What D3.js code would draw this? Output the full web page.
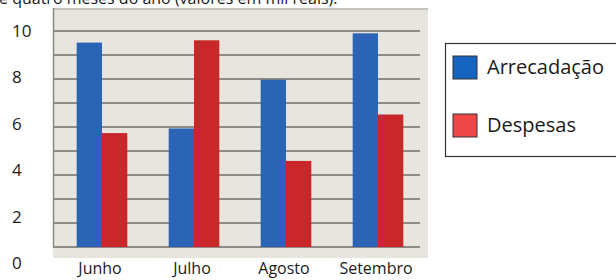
<!DOCTYPE html>
<html lang="pt-br">
  <head>
    <meta charset="utf-8">
    <title>Arrecadação e despesas</title>
    <script src="https://d3js.org/d3.v7.min.js"></script>
    <style>
      body { margin: 0; background: #fff; }
      text { font-family: 'Open Sans', sans-serif; fill: #1a1a1a; }
    </style>
  </head>
  <body>
    <svg></svg>
    <script>
    // dados (valores em mil reais)
    const meses = ['Junho', 'Julho', 'Agosto', 'Setembro']
    const arrecadacao = [9.5, 5.8, 7.9, 9.9]
    const despesas = [5.6, 9.6, 4.4, 6.4]
    const series = ['Arrecadação', 'Despesas']
    const yTicks = [0, 2, 4, 6, 8, 10]

    const svg = d3.select('svg')
      .attr('width', 616)
      .attr('height', 280)

    // titulo (cortado no topo da imagem)
    svg.append('text')
      .attr('x', -1)
      .attr('y', 4)
      .style('font-size', '16px')
      .text('e quatro meses do ano (valores em mil reais).')

    const plot = { left: 53, right: 428, top: 8, bottom: 258, axis: 247 }

    // fundo da area do grafico
    svg.append('rect')
      .attr('x', plot.left)
      .attr('y', plot.top)
      .attr('width', plot.right - plot.left)
      .attr('height', plot.bottom - plot.top)
      .attr('fill', '#e7e5de')
    svg.append('line')
      .attr('x1', plot.left).attr('x2', plot.right)
      .attr('y1', plot.top + 1).attr('y2', plot.top + 1)
      .attr('stroke', '#b9b7ae').attr('stroke-width', 1.5)

    const x = d3.scaleBand()
      .domain(meses)
      .range([56, 424])
      .paddingInner(0.45)
      .paddingOuter(0.225)

    const xSub = d3.scaleBand()
      .domain(series)
      .range([0, x.bandwidth()])

    // escala dos rotulos do eixo
    const y = d3.scaleLinear()
      .domain([0, 10])
      .range([263, 31])

    // linhas de grade (10 linhas, da linha do 10 ate a base)
    const grid = d3.scaleLinear()
      .domain([0, 9])
      .range([plot.axis, y(10)])
    svg.append('g')
      .selectAll('line')
      .data(d3.range(10))
      .join('line')
        .attr('x1', plot.left)
        .attr('x2', 420)
        .attr('y1', d => grid(d))
        .attr('y2', d => grid(d))
        .attr('stroke', '#6f6d66')
        .attr('stroke-width', 1.6)

    svg.append('line')
      .attr('x1', plot.left + 0.5).attr('x2', plot.left + 0.5)
      .attr('y1', plot.top).attr('y2', plot.axis)
      .attr('stroke', '#8a8880').attr('stroke-width', 1.5)

    // barras
    const cores = { 'Arrecadação': '#2b63b5', 'Despesas': '#c9272a' }
    const linhas = meses.map((m, i) => ({ mes: m, valores: [arrecadacao[i], despesas[i]] }))

    svg.append('g')
      .selectAll('g')
      .data(linhas)
      .join('g')
        .attr('transform', d => `translate(${x(d.mes)},0)`)
      .selectAll('rect')
      .data(d => d.valores.map((v, j) => ({ serie: series[j], v })))
      .join('rect')
        .attr('x', d => xSub(d.serie))
        .attr('width', xSub.bandwidth())
        .attr('y', d => y(d.v))
        .attr('height', d => plot.axis - y(d.v))
        .attr('fill', d => cores[d.serie])

    // eixo y (apenas rotulos)
    const yAxis = svg.append('g')
      .attr('transform', 'translate(12,0)')
      .call(d3.axisLeft(y).tickValues(yTicks).tickSize(0).tickPadding(0))
    yAxis.select('.domain').remove()
    yAxis.selectAll('text')
      .attr('text-anchor', 'start')
      .attr('fill', '#1a1a1a')
      .style('font-family', "'Open Sans', sans-serif")
      .style('font-size', '17px')

    // eixo x (apenas rotulos)
    const xAxis = svg.append('g')
      .attr('transform', 'translate(-2,261)')
      .call(d3.axisBottom(x).tickSize(0).tickPadding(2))
    xAxis.select('.domain').remove()
    xAxis.selectAll('text')
      .attr('fill', '#1a1a1a')
      .style('font-family', "'Open Sans', sans-serif")
      .style('font-size', '16px')

    // legenda
    const legenda = svg.append('g')
    legenda.append('rect')
      .attr('x', 445.5)
      .attr('y', 43.5)
      .attr('width', 175)
      .attr('height', 113)
      .attr('fill', '#fff')
      .attr('stroke', '#333')
      .attr('stroke-width', 1.2)

    const corLegenda = { 'Arrecadação': '#1565c0', 'Despesas': '#ef4747' }
    const item = legenda.selectAll('g.item')
      .data(series)
      .join('g')
        .attr('class', 'item')
        .attr('transform', (d, i) => `translate(453,${56 + i * 58})`)
    item.append('rect')
      .attr('width', 24)
      .attr('height', 23)
      .attr('fill', d => corLegenda[d])
      .attr('stroke', '#333')
      .attr('stroke-width', 1)
    item.append('text')
      .attr('x', 34)
      .attr('y', 18)
      .style('font-size', '20px')
      .text(d => d)
    </script>
  </body>
</html>
